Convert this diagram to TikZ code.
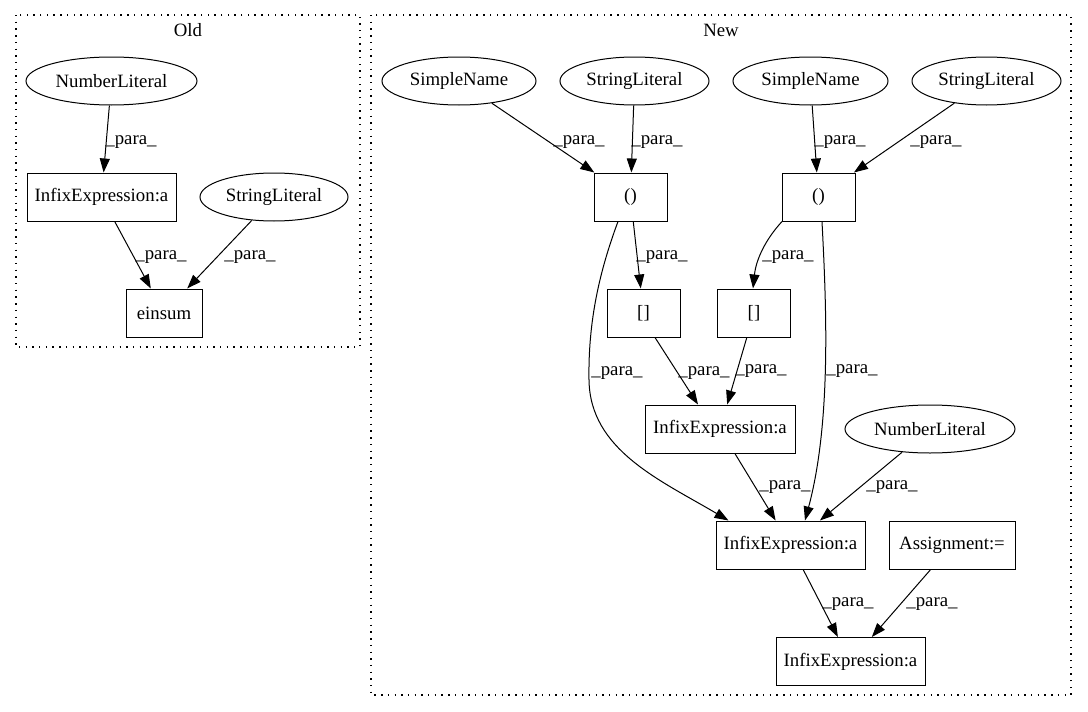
\documentclass[tikz,border=0pt]{standalone}
\usepackage{fontspec}
\setmainfont{Liberation Serif}
\usetikzlibrary{shapes.geometric,arrows.meta}
\begin{document}
\begin{tikzpicture}[x=1pt,y=-1pt,
  every node/.style={font=\fontsize{18.8}{22}\selectfont},
  ell/.style={draw,ellipse,inner sep=0pt,minimum height=48pt,line width=1pt},
  box/.style={draw,rectangle,inner sep=0pt,minimum height=48pt,line width=1pt},
  edge/.style={-{Triangle[length=14pt,width=10pt]},line width=1pt},
  lbl/.style={inner sep=0pt},
  cluster/.style={draw,line width=1.3pt,dash pattern=on 1.4pt off 5.3pt}]
\useasboundingbox (0,0) rectangle (1088,712);
% clusters
\draw[cluster] (16,15) rectangle (360,347);
\node[lbl] (oldlab) at (188,30) {Old};
\draw[cluster] (371,15) rectangle (1071,695);
\node[lbl] (newlab) at (721,30) {New};
% Old nodes
\node[ell,minimum width=171pt] (onl) at (111.5,81) {NumberLiteral};
\node[box,minimum width=149pt] (oinf) at (101.5,197) {InfixExpression:a};
\node[ell,minimum width=148pt] (osl) at (274,197) {StringLiteral};
\node[box,minimum width=76pt] (ein) at (164,313) {einsum};
% New nodes
\node[ell,minimum width=154pt] (sn1) at (459,81) {SimpleName};
\node[ell,minimum width=149pt] (sl1) at (634.5,81) {StringLiteral};
\node[ell,minimum width=155pt] (sn2) at (810.5,81) {SimpleName};
\node[ell,minimum width=149pt] (sl2) at (986.5,81) {StringLiteral};
\node[box,minimum width=73pt] (p1) at (630.5,197) {()};
\node[box,minimum width=73pt] (p2) at (818.5,197) {()};
\node[box,minimum width=73pt] (b1) at (643.5,313) {[]};
\node[box,minimum width=73pt] (b2) at (754,313) {[]};
\node[box,minimum width=150pt] (i1) at (720,429) {InfixExpression:a};
\node[ell,minimum width=170pt] (nl2) at (930,429) {NumberLiteral};
\node[box,minimum width=149pt] (i2) at (790.5,545) {InfixExpression:a};
\node[box,minimum width=126pt] (as) at (952,545) {Assignment:=};
\node[box,minimum width=149pt] (i3) at (850.5,661.5) {InfixExpression:a};
% Old edges
\draw[edge] (onl) -- (oinf);
\draw[edge] (oinf) -- (ein);
\draw[edge] (osl) -- (ein);
\node[lbl] (ol1) at (131,142) {\_para\_};
\node[lbl] (ol2) at (161,257) {\_para\_};
\node[lbl] (ol3) at (250,257) {\_para\_};
% New edges
\draw[edge] (sn1) -- (p1);
\draw[edge] (sl1) -- (p1);
\draw[edge] (sn2) -- (p2);
\draw[edge] (sl2) -- (p2);
\draw[edge] (p1) -- (b1);
\draw[edge] ([xshift=-36.5pt]p2.south) .. controls (765,240) and (756,260) .. ([xshift=-1pt]b2.north);
\draw[edge] ([xshift=-12.5pt]p1.south) .. controls (600,270) and (588,320) .. (589,380) .. controls (590,450) and (660,480) .. ([xshift=-62pt]i2.north);
\draw[edge] ([xshift=3.5pt]p2.south) .. controls (826,300) and (832,420) .. ([xshift=14.5pt]i2.north);
\draw[edge] ([xshift=11.5pt]b1.south) -- ([xshift=-22pt]i1.north);
\draw[edge] (b2) -- (i1);
\draw[edge] (i1) -- (i2);
\draw[edge] (nl2) -- (i2);
\draw[edge] (i2) -- (i3);
\draw[edge] (as) -- (i3);
\node[lbl] (nla) at (579,142) {\_para\_};
\node[lbl] (nlb) at (657,142) {\_para\_};
\node[lbl] (nlc) at (840,142) {\_para\_};
\node[lbl] (nld) at (936,142) {\_para\_};
\node[lbl] (nle) at (662,257) {\_para\_};
\node[lbl] (nlf) at (788,257) {\_para\_};
\node[lbl] (nlg) at (617,373) {\_para\_};
\node[lbl] (nlh) at (704,373) {\_para\_};
\node[lbl] (nli) at (761,371) {\_para\_};
\node[lbl] (nlj) at (852,371) {\_para\_};
\node[lbl] (nlk) at (785,487) {\_para\_};
\node[lbl] (nll) at (892,487) {\_para\_};
\node[lbl] (nlm) at (848,604) {\_para\_};
\node[lbl] (nln) at (932,604) {\_para\_};
\end{tikzpicture}
\end{document}
